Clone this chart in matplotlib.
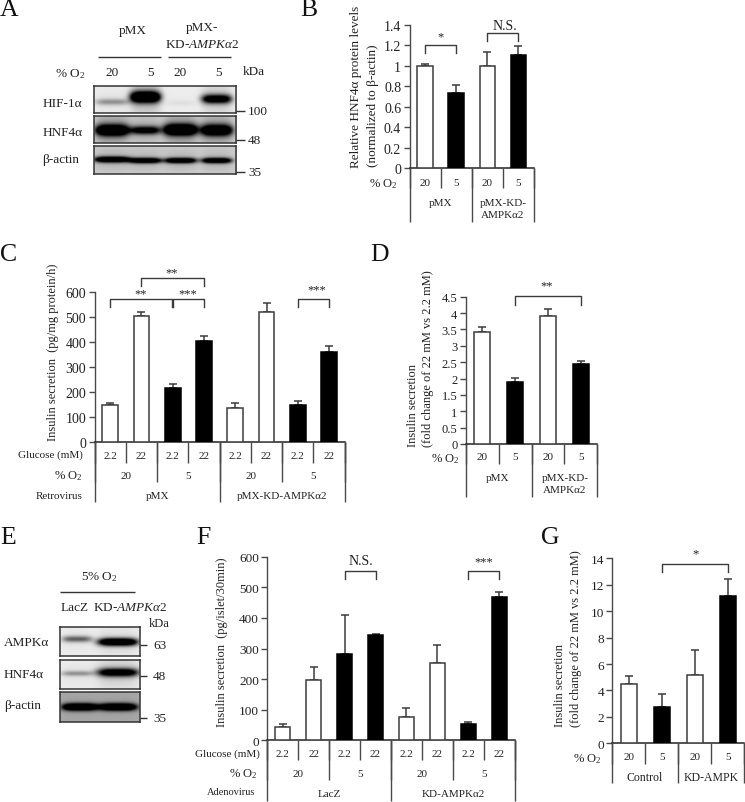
import numpy as np
import matplotlib
matplotlib.use("Agg")
import matplotlib.pyplot as plt

plt.rcParams['font.family'] = ['Liberation Serif', 'DejaVu Serif']
plt.rcParams['mathtext.fontset'] = 'custom'
plt.rcParams['mathtext.rm'] = 'Liberation Serif'
plt.rcParams['mathtext.it'] = 'Liberation Serif:italic'

W, H = 745, 803
TXT = '#222222'
EDGE = '#3c3c3c'
AXC = '#4a4a4a'

# ---- data ----
b_values = [1.0, 0.73, 1.0, 1.105]
b_errors = [0.02, 0.085, 0.135, 0.09]
b_dark = [0, 1, 0, 1]
b_ticks = [0, 0.2, 0.4, 0.6, 0.8, 1, 1.2, 1.4]
b_tick_labels = ['0', '0.2', '0.4', '0.6', '0.8', '1', '1.2', '1.4']

c_values = [148, 505, 218, 404, 138, 521, 151, 362]
c_errors = [8, 15, 17, 20, 18, 38, 13, 25]
c_dark = [0, 0, 1, 1, 0, 0, 1, 1]
c_ticks = [0, 100, 200, 300, 400, 500, 600]

d_values = [3.42, 1.9, 3.9, 2.44]
d_errors = [0.14, 0.13, 0.21, 0.11]
d_dark = [0, 1, 0, 1]
d_ticks = [0, .5, 1, 1.5, 2, 2.5, 3, 3.5, 4, 4.5]
d_tick_labels = ['0', '0.5', '1', '1.5', '2', '2.5', '3', '3.5', '4', '4.5']

f_values = [43, 197, 282, 343, 77, 254, 53, 469]
f_errors = [10, 44, 127, 3, 28, 58, 7, 17]
f_dark = [0, 0, 1, 1, 0, 0, 1, 1]
f_ticks = [0, 100, 200, 300, 400, 500, 600]

g_values = [4.5, 2.75, 5.15, 11.15]
g_errors = [0.62, 0.95, 1.92, 1.25]
g_dark = [0, 1, 0, 1]
g_ticks = [0, 2, 4, 6, 8, 10, 12, 14]

glucose = ['2.2', '22', '2.2', '22', '2.2', '22', '2.2', '22']
oxygen2 = ['20', '5', '20', '5']
oxygen4 = ['20', '5', '20', '5']

# Western blot band intensities per lane
a_hif = [0.2, 1.0, 0.03, 0.7]
a_hnf = [0.8, 0.55, 0.85, 0.75]
a_act = [0.8, 0.75, 0.75, 0.75]
e_ampk = [0.35, 0.95]
e_hnf = [0.2, 0.7]
e_act = [0.85, 0.85]

fig = plt.figure(figsize=(W / 100, H / 100), dpi=100, facecolor='white')
ov = fig.add_axes([0, 0, 1, 1], zorder=5)
ov.set_xlim(0, W)
ov.set_ylim(H, 0)
ov.axis('off')
ov.patch.set_alpha(0)


def T(x, y, s, size=9, ha='center', va='center', **kw):
    ov.text(x, y, s, fontsize=size, ha=ha, va=va, color=kw.pop('color', TXT), **kw)


def L(xs, ys, lw=1.0, color=AXC):
    ov.plot(xs, ys, color=color, lw=lw, solid_capstyle='butt')


def yl(x, y, s, size=9):
    T(x, y, s, size=size, rotation=90, va='bottom', ha='center')


def chart(left, right, y0, ytop, ymax, ticks, labels, values, errors, dark, tsize=9, width=0.5):
    ax = fig.add_axes([left / W, 1 - y0 / H, (right - left) / W, (y0 - ytop) / H])
    ax.patch.set_alpha(0)
    n = len(values)
    x = np.arange(n)
    ax.set_xlim(-0.5, n - 0.5)
    ax.set_ylim(0, ymax)
    cols = ['black' if d else 'white' for d in dark]
    ax.bar(x, values, width=width, color=cols, edgecolor=[('black' if d else EDGE) for d in dark], linewidth=1.1, zorder=3)
    ax.errorbar(x, values, yerr=[np.zeros(n), errors], fmt='none', ecolor=EDGE, elinewidth=1.1,
                capsize=3, capthick=1.1, zorder=2)
    ax.set_yticks(ticks)
    ax.set_yticklabels(labels if labels else [str(t) for t in ticks], fontsize=tsize, color=TXT)
    ax.tick_params(axis='y', length=4, width=1, color=AXC, pad=2)
    ax.set_xticks([])
    for s in ('top', 'right'):
        ax.spines[s].set_visible(False)
    ax.spines['left'].set_color(AXC)
    ax.spines['bottom'].set_color('#222222')
    ax.spines['left'].set_linewidth(1)
    ax.spines['bottom'].set_linewidth(1.1)
    return ax


def bracket(ax, a, b, top, low):
    ax.plot([a, a, b, b], [low, top, top, low], color=EDGE, lw=1.0, clip_on=False, zorder=4)


def dividers(left, right, y0, n, levels):
    step = (right - left) / n
    for every, yb in levels:
        for i in range(0, n + 1, every):
            L([left + i * step] * 2, [y0, yb])


def row_text(left, right, n, y, labels, size=8):
    step = (right - left) / n
    span = n // len(labels)
    for i, s in enumerate(labels):
        T(left + (i + 0.5) * span * step, y, s, size=size)


def blot(x0, x1, y0, y1, lanes, widths, intens, centers, thick, bg, smear=0.0):
    w, h = int(x1 - x0) * 2, int(y1 - y0) * 2
    xx, yy = np.meshgrid(np.linspace(x0, x1, w), np.linspace(y0, y1, h))
    dark = np.zeros_like(xx)
    for lane, wd, a, c, t in zip(lanes, widths, intens, centers, thick):
        dark += a * np.exp(-((xx - lane) / wd) ** 4) * np.exp(-((yy - c) / t) ** 2)
        dark += smear * a * np.exp(-((xx - lane) / wd) ** 4) * np.exp(-np.abs(yy - c) / (t * 2.5))
    img = np.clip(bg - 1.5 * dark, 0, 1)
    ax = fig.add_axes([x0 / W, 1 - y1 / H, (x1 - x0) / W, (y1 - y0) / H])
    ax.imshow(img, cmap='gray', vmin=0, vmax=1, aspect='auto', interpolation='bilinear')
    ax.set_xticks([])
    ax.set_yticks([])
    for s in ax.spines.values():
        s.set_color('#333333')
        s.set_linewidth(1.1)


# ---- panel letters ----
for x, y, s in [(0, 10, 'A'), (300, 10, 'B'), (0, 255, 'C'), (370, 255, 'D'),
                (0, 538, 'E'), (196, 538, 'F'), (541, 538, 'G')]:
    T(x, y, s, size=18.5, ha='left', color='#111111')

O2 = '% O$_2$'
AMPK_IT = 'KD-$\\mathit{AMPK\u03b12}$'

# ---- Panel A ----
lanes = [112, 145, 180, 216]
blot(94, 236, 87, 114, lanes, [17, 15, 15, 15], a_hif, [103, 98, 104, 100], [3.2, 5.5, 3, 4.5], 0.93, 0.25)
blot(94, 236, 116.5, 144, lanes, [17, 15, 17, 16], a_hnf, [131.5, 131.5, 131, 131.5], [5.5, 4, 5.5, 5.5], 0.82, 0.3)
blot(94, 236, 147, 175, lanes, [18, 16, 16, 15], a_act, [161, 162, 162, 162], [2.8, 2.6, 2.6, 2.6], 0.8, 0.15)
T(133, 31, 'pMX', 9.5)
T(202, 28, 'pMX-', 9.5)
T(202, 45, AMPK_IT, 9.5)
L([98, 161], [58, 58], 1.0, '#333333')
L([168, 231], [58, 58], 1.0, '#333333')
T(85, 74, O2, 9.5, ha='right')
for x, s in zip([112, 150, 180, 218], oxygen2):
    T(x, 73, s, 9.5)
T(243, 72, 'kDa', 9.5, ha='left')
T(42.5, 104, 'HIF-1\u03b1', 9.5, ha='left')
T(42.5, 132.5, 'HNF4\u03b1', 9.5, ha='left')
T(42.5, 160.5, '\u03b2-actin', 9.5, ha='left')
for y, s in [(112, '100'), (141, '48'), (173, '35')]:
    L([236, 245], [y, y], 1.0, '#333333')
    T(248, y, s, 9.5, ha='left')

# ---- Panel B ----
bl, br, by0, byt = 409.5, 534, 169, 26
ax = chart(bl, br, by0, byt, 1.4, b_ticks, b_tick_labels, b_values, b_errors, b_dark, tsize=10)
bracket(ax, 0, 1, 1.2, 1.13)
bracket(ax, 2, 3, 1.325, 1.245)
T(441, 37, '*', 9)
T(505, 27, 'N.S.', 10)
yl(356.5, 168, 'Relative HNF4\u03b1 protein levels', 9.5)
yl(373, 167, '(normalized to \u03b2-actin)', 9.5)
dividers(bl, br, by0, 4, [(1, 189), (2, 223)])
row_text(bl, br, 4, 183, oxygen4, 8)
T(398, 184, O2, 9, ha='right')
T(441, 204, 'pMX', 8)
T(503, 204, 'pMX-KD-', 8)
T(503, 216, 'AMPK\u03b12', 8)

# ---- Panel C ----
cl, cr, cy0, cyt = 94.5, 344.7, 443.3, 293.3
ax = chart(cl, cr, cy0, cyt, 600, c_ticks, None, c_values, c_errors, c_dark, tsize=10)
bracket(ax, 0, 1.98, 573, 542)
bracket(ax, 2.02, 3, 573, 542)
bracket(ax, 1, 3, 656, 626)
bracket(ax, 6, 7, 573, 542)
T(141, 294, '**', 9)
T(188, 294, '***', 9)
T(172, 273, '**', 9)
T(317, 290, '***', 9)
yl(53, 441, 'Insulin secretion  (pg/mg protein/h)')
dividers(cl, cr, cy0, 8, [(1, 464), (2, 483), (4, 503)])
row_text(cl, cr, 8, 457, glucose, 8)
row_text(cl, cr, 8, 477, ['20', '5', '20', '5'], 8)
row_text(cl, cr, 8, 497, ['pMX', 'pMX-KD-AMPK\u03b12'], 8)
T(83, 455, 'Glucose (mM)', 8, ha='right')
T(83, 476, O2, 9, ha='right')
T(83, 497, 'Retrovirus', 8, ha='right')

# ---- Panel D ----
dl, dr, dy0, dyt = 465.7, 597.3, 445, 297.7
ax = chart(dl, dr, dy0, dyt, 4.5, d_ticks, d_tick_labels, d_values, d_errors, d_dark)
bracket(ax, 1, 3, 4.53, 4.25)
T(547, 286, '**', 9)
yl(413, 447, 'Insulin secretion')
yl(428, 447, '(fold change of 22 mM vs 2.2 mM)')
dividers(dl, dr, dy0, 4, [(1, 465), (2, 498)])
row_text(dl, dr, 4, 458, oxygen4, 8)
T(460, 459, O2, 9, ha='right')
T(498, 479, 'pMX', 8)
T(565, 479, 'pMX-KD-', 8)
T(565, 491, 'AMPK\u03b12', 8)

# ---- Panel E ----
blot(60, 140, 628, 657, [77, 118], [15, 20], e_ampk, [640, 643], [3.2, 3.8], 0.93, 0.1)
blot(60, 140, 661, 690, [77, 118], [16, 21], e_hnf, [675, 674], [2.5, 4], 0.93, 0.25)
blot(60, 140, 693, 723, [80, 118], [18, 19], e_act, [708, 708], [3.6, 3.6], 0.66, 0.05)
T(99, 577, '5% O$_2$', 9.5)
L([60, 135], [592.5, 592.5], 1.0, '#333333')
T(75, 608.5, 'LacZ', 9.5)
T(130.5, 608.5, AMPK_IT, 9.5)
T(149, 624.5, 'kDa', 9, ha='left')
T(4, 643, 'AMPK\u03b1', 9.5, ha='left')
T(4, 675, 'HNF4\u03b1', 9.5, ha='left')
T(4, 706.5, '\u03b2-actin', 9.5, ha='left')
for y, s in [(646, '63'), (677, '48'), (719, '35')]:
    L([140, 147], [y, y], 1.0, '#333333')
    T(153, y, s, 9.5, ha='left')

# ---- Panel F ----
fl, fr, fy0, fyt = 267.3, 514.7, 741.3, 557.7
ax = chart(fl, fr, fy0, fyt, 600, f_ticks, None, f_values, f_errors, f_dark, tsize=9.5)
bracket(ax, 2, 3, 552, 528)
bracket(ax, 6, 7, 552, 528)
T(361, 562, 'N.S.', 10)
T(484, 562, '***', 9)
yl(221.5, 727, 'Insulin secretion  (pg/islet/30min)')
dividers(fl, fr, fy0, 8, [(1, 761), (2, 781), (4, 802)])
row_text(fl, fr, 8, 755, glucose, 8)
row_text(fl, fr, 8, 775, ['20', '5', '20', '5'], 8)
row_text(fl, fr, 8, 795, ['LacZ', 'KD-AMPK\u03b12'], 8)
T(260, 754, 'Glucose (mM)', 8, ha='right')
T(258, 774, O2, 9, ha='right')
T(255, 793, 'Adenovirus', 7.5, ha='right')

# ---- Panel G ----
gl, gr, gy0, gyt = 612.3, 744.3, 744.3, 559.3
ax = chart(gl, gr, gy0, gyt, 14, g_ticks, None, g_values, g_errors, g_dark, tsize=9.5)
bracket(ax, 1, 3, 13.6, 13)
T(696, 554, '*', 9)
yl(560, 727, 'Insulin secretion')
yl(575.5, 727, '(fold change of 22 mM vs 2.2 mM)')
dividers(gl, gr, gy0, 4, [(1, 765), (2, 784)])
row_text(gl, gr, 4, 758, oxygen4, 8)
T(602, 759, O2, 9, ha='right')
T(645, 778, 'Control', 8.5)
T(711, 778, 'KD-AMPK', 8.5)

fig.savefig('out.png', dpi=100)
